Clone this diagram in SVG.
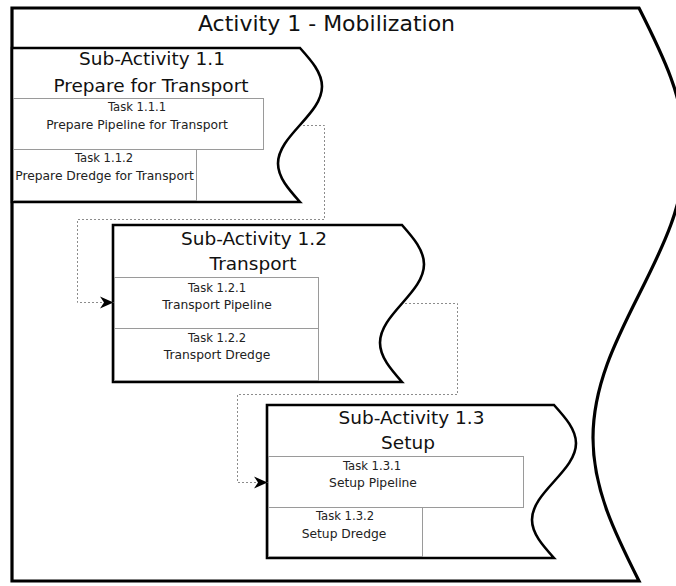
<svg xmlns="http://www.w3.org/2000/svg" width="676" height="586" viewBox="0 0 676 586">
  <style>
    .activity { fill: #ffffff; stroke: #000000; stroke-width: 3.2; stroke-linejoin: miter; }
    .sub { fill: #ffffff; stroke: #000000; stroke-width: 2.6; stroke-linejoin: miter; }
    .task { fill: #ffffff; stroke: #9a9a9a; stroke-width: 1; }
    .title { font-family: "DejaVu Sans", Verdana, sans-serif; font-size: 22px; fill: #111111; text-anchor: middle; }
    .subtitle { font-family: "DejaVu Sans", Verdana, sans-serif; font-size: 18.5px; fill: #111111; text-anchor: middle; }
    .taskid { font-family: "DejaVu Sans", Verdana, sans-serif; font-size: 11.6px; fill: #222222; text-anchor: middle; }
    .tasktext { font-family: "DejaVu Sans", Verdana, sans-serif; font-size: 12.3px; fill: #222222; text-anchor: middle; }
    .flow { fill: none; stroke: #8c8c8c; stroke-width: 1; stroke-dasharray: 2 2; }
  </style>
  <defs>
    <marker id="arrow" markerUnits="userSpaceOnUse" markerWidth="15" markerHeight="14" refX="13.5" refY="6.5" orient="auto">
      <path d="M0,0.5 L13.5,6.5 L0,12.5 L4,6.5 Z" fill="#000000"/>
    </marker>
  </defs>

  <!-- Activity 1: outer wave-edged frame -->
  <g id="activity-1">
    <path class="activity" d="M12,8 H639 C662.57,54.72 685,99.4 685,151.25 C685,203.1 662.57,247.78 639,294.5 C615.43,341.22 593,385.9 593,437.75 C593,489.6 615.43,534.28 639,581 H12 Z"/>
    <text class="title" x="326.5" y="31">Activity 1 - Mobilization</text>
  </g>

  <!-- Sub-Activity 1.1 -->
  <g id="sub-activity-1-1">
    <path class="sub" d="M12,48 H300 C311.27,60.56 322,72.57 322,86.5 C322,100.43 311.27,112.44 300,125 C288.73,137.56 278,149.57 278,163.5 C278,177.43 288.73,189.44 300,202 H12 Z"/>
    <text class="subtitle" x="152" y="65">Sub-Activity 1.1</text>
    <text class="subtitle" x="151" y="91.5">Prepare for Transport</text>
  </g>
  <g id="task-1-1-1">
    <rect class="task" x="13.5" y="98.5" width="250" height="51"/>
    <text class="taskid" x="137" y="111">Task 1.1.1</text>
    <text class="tasktext" x="137" y="129">Prepare Pipeline for Transport</text>
  </g>
  <g id="task-1-1-2">
    <rect class="task" x="13.5" y="149.5" width="183" height="51"/>
    <text class="taskid" x="104" y="162">Task 1.1.2</text>
    <text class="tasktext" x="104.5" y="180">Prepare Dredge for Transport</text>
  </g>

  <!-- Sub-Activity 1.2 -->
  <g id="sub-activity-1-2">
    <path class="sub" d="M113,225 H402 C413.27,237.8 424,250.04 424,264.25 C424,278.46 413.27,290.7 402,303.5 C390.73,316.3 380,328.54 380,342.75 C380,356.96 390.73,369.2 402,382 H113 Z"/>
    <text class="subtitle" x="254" y="245">Sub-Activity 1.2</text>
    <text class="subtitle" x="253" y="270">Transport</text>
  </g>
  <g id="task-1-2-1">
    <rect class="task" x="114.5" y="277.5" width="204" height="51"/>
    <text class="taskid" x="217" y="292">Task 1.2.1</text>
    <text class="tasktext" x="217" y="308.5">Transport Pipeline</text>
  </g>
  <g id="task-1-2-2">
    <rect class="task" x="114.5" y="328.5" width="204" height="52"/>
    <text class="taskid" x="217" y="342">Task 1.2.2</text>
    <text class="tasktext" x="217" y="358.5">Transport Dredge</text>
  </g>

  <!-- Sub-Activity 1.3 -->
  <g id="sub-activity-1-3">
    <path class="sub" d="M267,405 H554 C565.27,417.48 576,429.41 576,443.25 C576,457.09 565.27,469.02 554,481.5 C542.73,493.98 532,505.91 532,519.75 C532,533.59 542.73,545.52 554,558 H267 Z"/>
    <text class="subtitle" x="411.5" y="423.5">Sub-Activity 1.3</text>
    <text class="subtitle" x="408" y="448.5">Setup</text>
  </g>
  <g id="task-1-3-1">
    <rect class="task" x="268.5" y="456.5" width="255" height="51"/>
    <text class="taskid" x="372" y="470">Task 1.3.1</text>
    <text class="tasktext" x="373" y="486.5">Setup Pipeline</text>
  </g>
  <g id="task-1-3-2">
    <rect class="task" x="268.5" y="507.5" width="154" height="49"/>
    <text class="taskid" x="345" y="520">Task 1.3.2</text>
    <text class="tasktext" x="344" y="538">Setup Dredge</text>
  </g>

  <!-- Sequence flows between sub-activities -->
  <g id="connectors">
    <path class="flow" d="M303,125.5 H324.5 V219.5 H77.5 V302.5 H113.5" marker-end="url(#arrow)"/>
    <path class="flow" d="M405,303.5 H457.5 V394.5 H237.5 V482.5 H267.5" marker-end="url(#arrow)"/>
  </g>
</svg>
